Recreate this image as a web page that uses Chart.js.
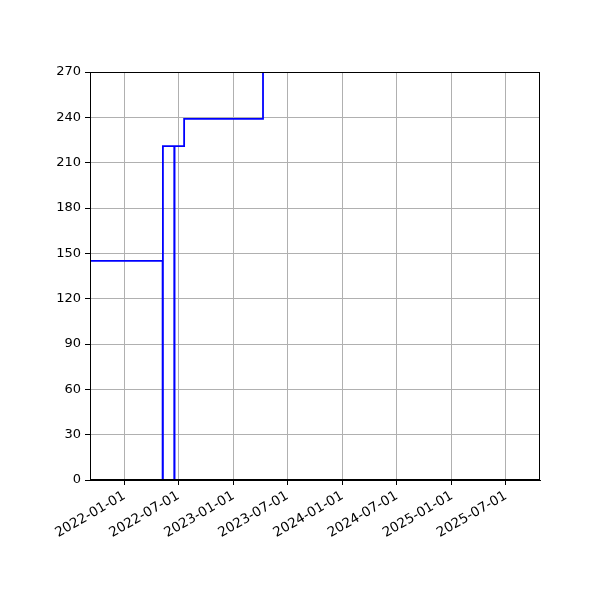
<!DOCTYPE html>
<html>
<head>
<meta charset="utf-8">
<script src="https://cdn.jsdelivr.net/npm/chart.js@4.4.1/dist/chart.umd.min.js"></script>
<style>
  html, body { margin: 0; padding: 0; background: #fff; }
  #wrap { width: 600px; height: 600px; }
</style>
</head>
<body>
<div id="wrap"><canvas id="stepChart" width="600" height="600"></canvas></div>
<script>
// step points (date, value)
const stepDates = ['2021-08-01', '2022-05-09', '2022-05-10', '2022-06-17', '2022-06-18', '2022-07-20', '2023-04-10', '2025-12-31'];
const stepValues = [145, 0, 221, 0, 221, 239, 300, 300];

const tickDates = ['2022-01-01', '2022-07-01', '2023-01-01', '2023-07-01', '2024-01-01', '2024-07-01', '2025-01-01', '2025-07-01'];
const yTicks = [0, 30, 60, 90, 120, 150, 180, 210, 240, 270];

const xMin = '2021-09-08';
const xMax = '2025-10-23';

const toMs = d => Date.parse(d + 'T00:00:00Z');

const frame = {
    id: 'frame',
    afterDraw(chart) {
        const a = chart.chartArea;
        const c = chart.ctx;
        c.save();
        c.strokeStyle = '#000';
        c.lineWidth = 1;
        c.strokeRect(a.left + 0.5, a.top + 0.5, a.right - a.left - 1, a.bottom - a.top - 1);
        c.restore();
    }
};

const ctx = document.getElementById('stepChart').getContext('2d');
new Chart(ctx, {
    type: 'line',
    data: {
        datasets: [{
            data: stepDates.map((d, i) => ({ x: toMs(d), y: stepValues[i] })),
            borderColor: '#0000ff',
            borderWidth: 1.8,
            pointRadius: 0,
            fill: false,
            stepped: 'before'
        }]
    },
    options: {
        responsive: false,
        animation: false,
        layout: { padding: { top: 72, right: 60, left: 0, bottom: 0 } },
        plugins: { legend: { display: false }, tooltip: { enabled: false } },
        scales: {
            x: {
                type: 'linear',
                min: toMs(xMin),
                max: toMs(xMax),
                afterBuildTicks: axis => { axis.ticks = tickDates.map(d => ({ value: toMs(d) })); },
                afterFit: axis => { axis.height = 120; },
                grid: { color: '#b0b0b0', lineWidth: 1, tickColor: '#000', tickLength: 5 },
                border: { color: '#000', width: 1 },
                ticks: {
                    minRotation: 30,
                    maxRotation: 30,
                    autoSkip: false,
                    padding: 3,
                    color: '#000',
                    font: { family: 'DejaVu Sans', size: 13.5 },
                    callback: v => new Date(v).toISOString().slice(0, 10)
                }
            },
            y: {
                min: 0,
                max: 270,
                afterBuildTicks: axis => { axis.ticks = yTicks.map(v => ({ value: v })); },
                afterFit: axis => { axis.width = 90; },
                grid: { color: '#b0b0b0', lineWidth: 1, tickColor: '#000', tickLength: 5 },
                border: { color: '#000', width: 1 },
                ticks: {
                    padding: 4,
                    color: '#000',
                    font: { family: 'DejaVu Sans', size: 13 }
                }
            }
        }
    },
    plugins: [frame]
});
</script>
</body>
</html>
